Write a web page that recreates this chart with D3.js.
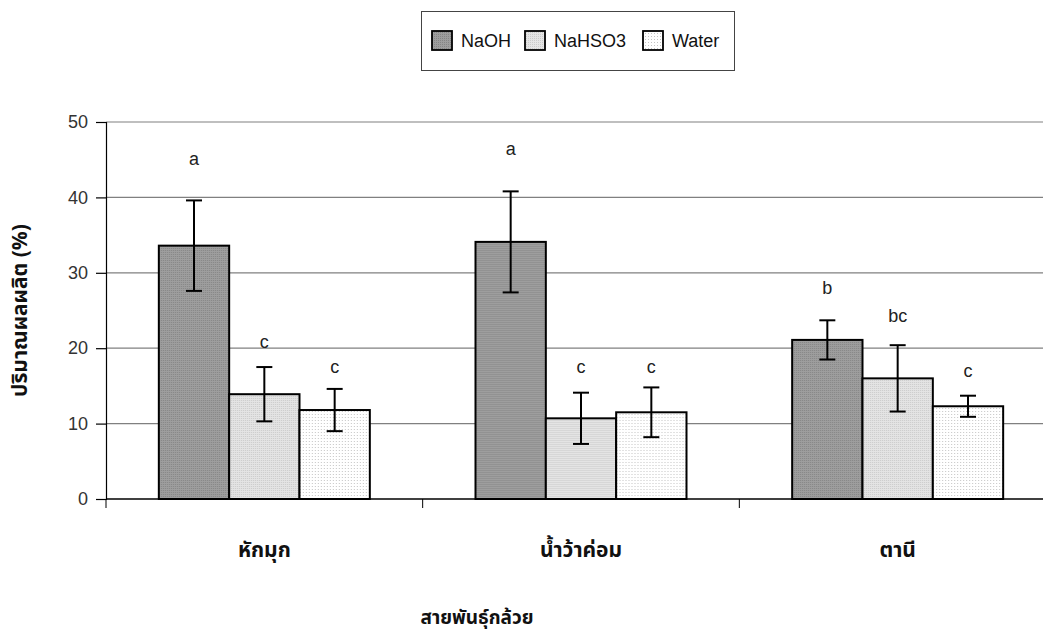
<!DOCTYPE html>
<html>
<head>
<meta charset="utf-8">
<script src="https://cdn.jsdelivr.net/npm/d3@7"></script>
<style>
  html, body { margin: 0; padding: 0; background: #fff; }
  svg { display: block; }
  .thai { font-family: "Noto Sans Thai", "Noto Sans Thai UI", "Loma", "Garuda", "Norasi", "Tlwg Typist", sans-serif; font-weight: bold; }
  .latin { font-family: "Liberation Sans", Arial, sans-serif; }
</style>
</head>
<body>
<svg id="chart" width="1043" height="639"></svg>
<script>
// Banana cultivars and extraction treatments
const cultivars = ["หักมุก", "น้ำว้าค่อม", "ตานี"];
const treatments = ["NaOH", "NaHSO3", "Water"];

// Mean yield (%) per cultivar, one array per treatment
const naohMean   = [33.6, 34.1, 21.1];
const nahso3Mean = [13.9, 10.7, 16.0];
const waterMean  = [11.8, 11.5, 12.3];

// Standard deviation per cultivar
const naohErr   = [6.0, 6.7, 2.6];
const nahso3Err = [3.6, 3.4, 4.4];
const waterErr  = [2.8, 3.3, 1.4];

// Significance letters and the height (in %) at which each is printed
const naohLetter   = ["a", "a", "b"];
const nahso3Letter = ["c", "c", "bc"];
const waterLetter  = ["c", "c", "c"];
const naohLetterAt   = [45.1, 46.4, 28.0];
const nahso3LetterAt = [20.8, 17.6, 24.3];
const waterLetterAt  = [17.6, 17.6, 17.0];

const yTicks = [0, 10, 20, 30, 40, 50];
const yTitle = "ปริมาณผลผลิต (%)";
const xTitle = "สายพันธุ์กล้วย";

const seriesTable = [
  { key: "NaOH",   mean: naohMean,   err: naohErr,   letter: naohLetter,   at: naohLetterAt },
  { key: "NaHSO3", mean: nahso3Mean, err: nahso3Err, letter: nahso3Letter, at: nahso3LetterAt },
  { key: "Water",  mean: waterMean,  err: waterErr,  letter: waterLetter,  at: waterLetterAt }
];

const svg = d3.select("#chart");

// Dotted fills in the style of classic spreadsheet patterns
const defs = svg.append("defs");
function dotPattern(id, base, dot, size) {
  const p = defs.append("pattern").attr("id", id)
    .attr("patternUnits", "userSpaceOnUse").attr("width", size).attr("height", size);
  p.append("rect").attr("width", size).attr("height", size).attr("fill", base);
  p.append("rect").attr("width", 1).attr("height", 1).attr("fill", dot);
}
dotPattern("fill-naoh", "#9e9e9e", "#858585", 2);
dotPattern("fill-nahso3", "#e4e4e4", "#cacaca", 2);
dotPattern("fill-water", "#ffffff", "#c4c4c4", 3);
const fillOf = { NaOH: "url(#fill-naoh)", NaHSO3: "url(#fill-nahso3)", Water: "url(#fill-water)" };

const plotLeft = 106, plotRight = 1056, plotTop = 122, plotBottom = 499;

const x0 = d3.scaleBand().domain(cultivars).range([plotLeft, plotRight]).paddingInner(0).paddingOuter(0);
const groupW = 211;
const x1 = d3.scaleBand().domain(treatments).range([0, groupW]).padding(0);
const y = d3.scaleLinear().domain([0, 50]).range([plotBottom, plotTop]);

// Horizontal gridlines
svg.append("g").selectAll("line").data(yTicks.filter(t => t > 0)).join("line")
  .attr("x1", plotLeft).attr("x2", plotRight)
  .attr("y1", d => y(d)).attr("y2", d => y(d))
  .attr("stroke", "#808080").attr("stroke-width", 1.2);

// Y axis
const yAxis = svg.append("g").attr("transform", `translate(${plotLeft},0)`)
  .call(d3.axisLeft(y).tickValues(yTicks).tickSize(10).tickPadding(8));
yAxis.select(".domain").attr("stroke", "#000").attr("stroke-width", 1.2);
yAxis.selectAll(".tick line").attr("stroke", "#000").attr("stroke-width", 1.2);
yAxis.selectAll(".tick text").attr("class", "latin").attr("font-size", 18).attr("fill", "#333");

// Bars
const groups = svg.append("g").selectAll("g").data(cultivars).join("g")
  .attr("transform", c => `translate(${x0(c) + (x0.bandwidth() - groupW) / 2},0)`);

groups.each(function (c, i) {
  const g = d3.select(this);
  seriesTable.forEach(s => {
    const v = s.mean[i], e = s.err[i];
    const bx = x1(s.key), bw = x1.bandwidth(), cx = bx + bw / 2;
    g.append("rect")
      .attr("x", bx).attr("y", y(v))
      .attr("width", bw).attr("height", y(0) - y(v))
      .attr("fill", fillOf[s.key]).attr("stroke", "#000").attr("stroke-width", 2);
    // error bar
    g.append("line").attr("x1", cx).attr("x2", cx).attr("y1", y(v + e)).attr("y2", y(v - e))
      .attr("stroke", "#000").attr("stroke-width", 2);
    [v + e, v - e].forEach(t => g.append("line")
      .attr("x1", cx - 8).attr("x2", cx + 8).attr("y1", y(t)).attr("y2", y(t))
      .attr("stroke", "#000").attr("stroke-width", 2));
    // letter
    g.append("text").attr("class", "latin")
      .attr("x", cx).attr("y", y(s.at[i])).attr("dy", "0.35em")
      .attr("text-anchor", "middle").attr("font-size", 18).attr("fill", "#222")
      .text(s.letter[i]);
  });
});

// X axis with category separators
const xAxis = svg.append("g").attr("transform", `translate(0,${plotBottom})`);
xAxis.append("line").attr("x1", plotLeft).attr("x2", plotRight).attr("y1", 0).attr("y2", 0)
  .attr("stroke", "#000").attr("stroke-width", 1.5);
const seps = cultivars.map(c => x0(c)).concat([plotRight]);
xAxis.selectAll("line.sep").data(seps).join("line").attr("class", "sep")
  .attr("x1", d => d).attr("x2", d => d).attr("y1", 0).attr("y2", 9)
  .attr("stroke", "#000").attr("stroke-width", 1);
xAxis.selectAll("text").data(cultivars).join("text").attr("class", "thai")
  .attr("x", c => x0(c) + x0.bandwidth() / 2).attr("y", 58)
  .attr("text-anchor", "middle").attr("font-size", 21).attr("fill", "#111")
  .text(c => c);

// Axis titles
svg.append("text").attr("class", "thai")
  .attr("transform", `translate(27,${(plotTop + plotBottom) / 2}) rotate(-90)`)
  .attr("text-anchor", "middle").attr("font-size", 21).attr("fill", "#111")
  .text(yTitle);
svg.append("text").attr("class", "thai")
  .attr("x", 477).attr("y", 624).attr("text-anchor", "middle")
  .attr("font-size", 19).attr("fill", "#111").text(xTitle);

// Legend
const legend = svg.append("g");
legend.append("rect").attr("x", 421.5).attr("y", 11.5).attr("width", 313).attr("height", 59)
  .attr("fill", "#fff").attr("stroke", "#444").attr("stroke-width", 1);
const legendX = [432, 525, 643];
treatments.forEach((t, i) => {
  legend.append("rect").attr("x", legendX[i]).attr("y", 31).attr("width", 20).attr("height", 19)
    .attr("fill", fillOf[t]).attr("stroke", "#000").attr("stroke-width", 1.8);
  legend.append("text").attr("class", "latin").attr("x", legendX[i] + 29).attr("y", 47)
    .attr("font-size", 18).attr("fill", "#111").text(t);
});
</script>
</body>
</html>
